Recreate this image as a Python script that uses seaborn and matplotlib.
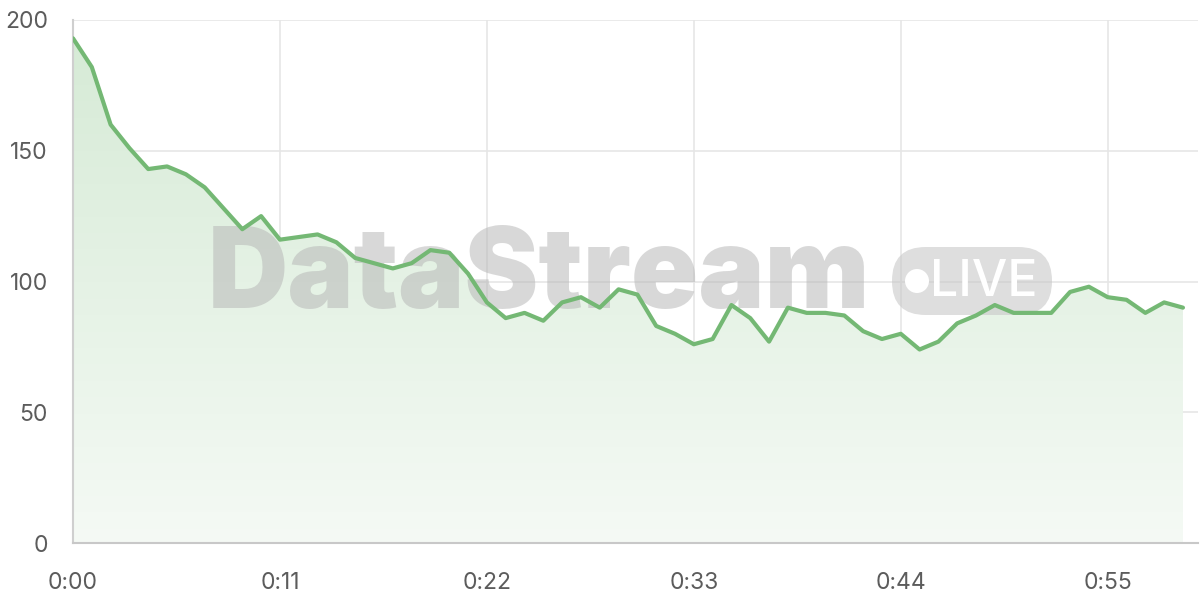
import numpy as np
import pandas as pd
import matplotlib.pyplot as plt
import seaborn as sns
from matplotlib.patches import FancyBboxPatch, Ellipse, Polygon
from matplotlib.colors import LinearSegmentedColormap

# Data
seconds = list(range(60))
values = [193, 182, 160, 151, 143, 144, 141, 136, 128, 120,
          125, 116, 117, 118, 115, 109, 107, 105, 107, 112,
          111, 103, 92, 86, 88, 85, 92, 94, 90, 97,
          95, 83, 80, 76, 78, 91, 86, 77, 90, 88,
          88, 87, 81, 78, 80, 74, 77, 84, 87, 91,
          88, 88, 88, 96, 98, 94, 93, 88, 92, 90]
x_ticks = [0, 11, 22, 33, 44, 55]
x_labels = ["0:00", "0:11", "0:22", "0:33", "0:44", "0:55"]
y_ticks = [0, 50, 100, 150, 200]

df = pd.DataFrame({"t": seconds, "v": values})

sns.set_style("white")
plt.rcParams['font.family'] = ['Inter', 'DejaVu Sans']

fig = plt.figure(figsize=(12, 6), dpi=100)
ax = fig.add_axes([73 / 1200, 57 / 600, 1125 / 1200, 523 / 600])

line_color = "#74b874"
grid_color = "#e6e6e6"

# gradient fill under the line
cmap = LinearSegmentedColormap.from_list("g", [(0.96, 0.98, 0.96), (0.84, 0.92, 0.84)])
grad = np.linspace(0, 1, 256).reshape(-1, 1)
img = ax.imshow(grad, extent=[0, 59, 0, max(values)], origin="lower", aspect="auto",
                cmap=cmap, zorder=1)
poly = Polygon(list(zip(seconds, values)) + [(59, 0), (0, 0)], closed=True,
               facecolor="none", edgecolor="none")
ax.add_patch(poly)
img.set_clip_path(poly)

# watermark
ax.text((539 - 73) / 1125, 0.505, "DataStream", transform=ax.transAxes,
        fontsize=80, fontweight="black", color="#b5b5b5", alpha=0.52,
        ha="center", va="center", zorder=2)
bx0, by0 = (892 - 73) / 1125, (543 - 315) / 523
bw, bh = 160 / 1125, 68 / 523
badge = FancyBboxPatch((bx0, by0), bw, bh, boxstyle="round,pad=0,rounding_size=0.03",
                       transform=ax.transAxes, facecolor="#c8c8c8", alpha=0.6,
                       edgecolor="none", zorder=2, mutation_aspect=2.15)
ax.add_patch(badge)
ax.add_patch(Ellipse(((917 - 73) / 1125, (543 - 281) / 523), 24 / 1125, 24 / 523,
                     transform=ax.transAxes, facecolor="white", edgecolor="none", zorder=3))
ax.text((984 - 73) / 1125, (543 - 283) / 523, "LIVE", transform=ax.transAxes,
        fontsize=36, fontweight="medium", color="white", ha="center", va="center", zorder=3)

sns.lineplot(data=df, x="t", y="v", ax=ax, color=line_color, linewidth=3, zorder=4)

ax.set_xlim(0, 59.8)
ax.set_ylim(0, 200)
ax.set_xticks(x_ticks)
ax.set_xticklabels(x_labels)
ax.set_yticks(y_ticks)
ax.set_xlabel("")
ax.set_ylabel("")
ax.grid(True, color=grid_color, linewidth=1.2, zorder=0)
ax.set_axisbelow(True)
for side in ["top", "right"]:
    ax.spines[side].set_visible(False)
ax.spines["left"].set_color("#cfcfcf")
ax.spines["bottom"].set_color("#c8c8c8")
ax.spines["left"].set_linewidth(1.5)
ax.spines["bottom"].set_linewidth(1.5)
ax.tick_params(axis="both", colors=grid_color, length=12, width=1.2,
               labelcolor="#5c5c5c", labelsize=16.5)
ax.tick_params(axis="x", pad=9)
ax.tick_params(axis="y", pad=6)

fig.savefig("out.png", dpi=100)
